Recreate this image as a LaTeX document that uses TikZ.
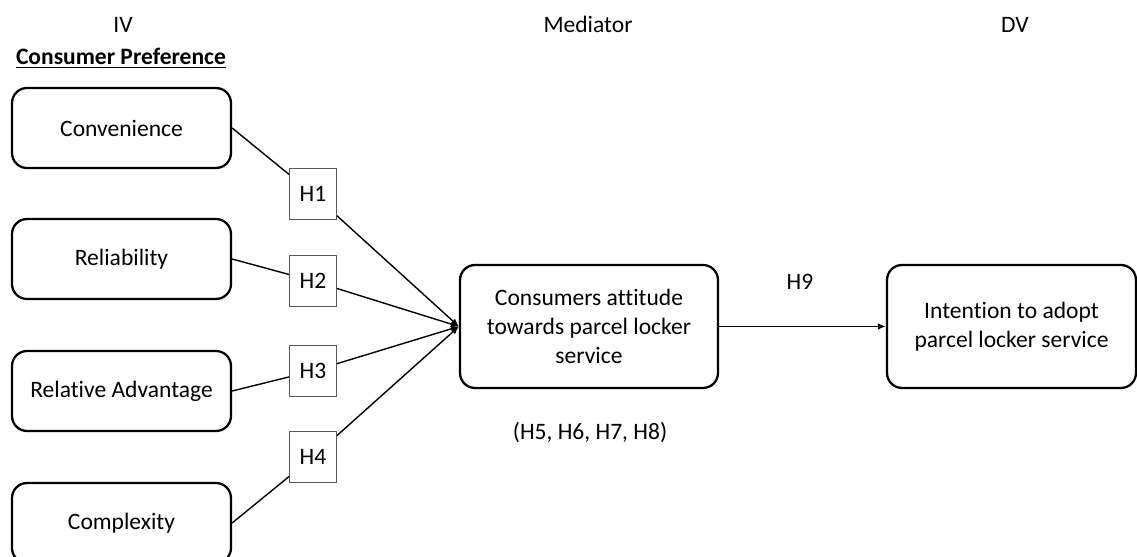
\documentclass[tikz,border=0pt]{standalone}
\usepackage{fontspec}
\setmainfont{Carlito}[Ligatures=CommonOff]
\usepackage{tikz}
\usetikzlibrary{arrows.meta}

\begin{document}
\begin{tikzpicture}[x=0.02cm, y=-0.02cm,
    every node/.style={font=\fontsize{13.4}{16.5}\selectfont},
    head/.style={anchor=base},
    factor/.style={draw, line width=1.3pt, rounded corners=0.3cm, align=center, minimum width=4.38cm, minimum height=1.6cm},
    outcome/.style={draw, line width=1.3pt, rounded corners=0.3cm, align=center, minimum height=2.46cm},
    hyp/.style={draw, gray!70!black, text=black, line width=0.5pt, minimum width=0.94cm, minimum height=1.02cm, inner sep=0pt},
    link/.style={line width=0.8pt, -{Latex[length=1.6mm, width=1.3mm]}}]
    \useasboundingbox (0, 0) rectangle (1137, 557);

    \node[head] at (123, 33) (IV) {IV};
    \node[head] at (588, 33) (Med) {Mediator};
    \node[head] at (1015, 33) (DVhead) {DV};
    \node[head] at (121, 65) (pref) {\underline{\textbf{Consumer Preference}}};

    \node[factor] at (121.5, 128) (conv) {Convenience};
    \node[factor] at (121.5, 259) (rel) {Reliability};
    \node[factor] at (121.5, 391) (adv) {Relative Advantage};
    \node[factor] at (121.5, 523) (comp) {Complexity};

    \node[hyp] at (313, 194) (H1) {H1};
    \node[hyp] at (313, 281) (H2) {H2};
    \node[hyp] at (313, 371) (H3) {H3};
    \node[hyp] at (313, 457) (H4) {H4};

    \node[outcome, minimum width=5.16cm] at (589, 326.5) (att) {Consumers attitude\\towards parcel locker\\service};
    \node[outcome, minimum width=4.98cm] at (1011.5, 326.5) (int) {Intention to adopt\\parcel locker service};
    \node[head] at (590, 439) (mh) {(H5, H6, H7, H8)};
    \node[head] at (800, 290) (H9) {H9};

    \draw[line width=0.8pt] (conv.east) -- (H1);
    \draw[line width=0.8pt] (rel.east) -- (H2);
    \draw[line width=0.8pt] (adv.east) -- (H3);
    \draw[line width=0.8pt] (comp.east) -- (H4);
    \draw[link] (H1) -- (att.west);
    \draw[link] (H2) -- (att.west);
    \draw[link] (H3) -- (att.west);
    \draw[link] (H4) -- (att.west);
    \draw[link] (att) -- (int);
\end{tikzpicture}
\end{document}
